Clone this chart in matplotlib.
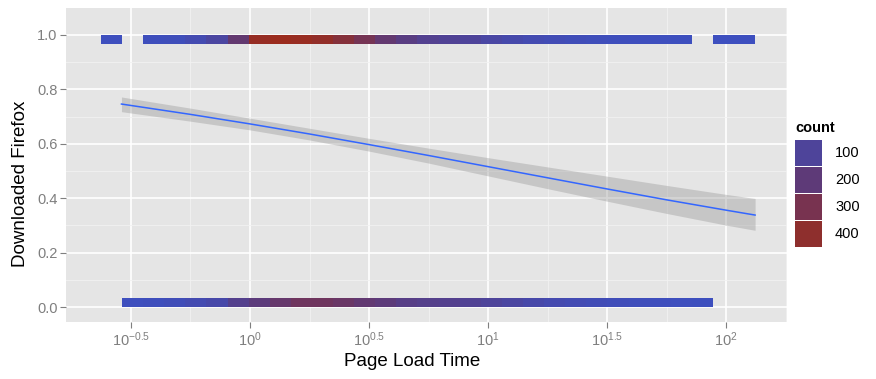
import numpy as np
import matplotlib
matplotlib.use('Agg')
import matplotlib.pyplot as plt
from matplotlib.colors import LinearSegmentedColormap, Normalize
from matplotlib.patches import Rectangle
from matplotlib.ticker import FixedLocator, NullFormatter

plt.rcParams['font.family'] = ['Liberation Sans', 'DejaVu Sans']
plt.rcParams['mathtext.fontset'] = 'custom'
plt.rcParams['mathtext.rm'] = 'Liberation Sans'
plt.rcParams['mathtext.it'] = 'Liberation Sans:italic'
plt.rcParams['mathtext.default'] = 'regular'

# ---------------- data ----------------
# log10(page load time) range covered by the 2-D bins
bin_lo, bin_hi, n_bins = -0.626, 2.122, 31
# counts per x-bin for Downloaded Firefox == 1 (top row)
count_downloaded = [5, 0, 10, 15, 40, 80, 220, 440, 470, 450, 420, 360, 290, 220, 170,
                    130, 115, 100, 75, 55, 40, 30, 20, 15, 10, 8, 5, 3, 0, 2, 1]
# counts per x-bin for Downloaded Firefox == 0 (bottom row)
count_not = [0, 5, 10, 20, 40, 60, 140, 190, 230, 265, 265, 245, 215, 195, 160,
             145, 135, 120, 100, 80, 60, 45, 35, 25, 18, 12, 8, 5, 3, 0, 0]
# logistic smooth (x in log10 units)
fit_x = [-0.54, -0.25, 0.0, 0.25, 0.5, 0.75, 1.0, 1.25, 1.5, 1.75, 2.0, 2.122]
fit_y = [0.746, 0.708, 0.673, 0.636, 0.597, 0.557, 0.516, 0.475, 0.434, 0.394, 0.356, 0.338]
fit_hi = [0.772, 0.731, 0.694, 0.657, 0.620, 0.584, 0.549, 0.515, 0.481, 0.447, 0.414, 0.399]
fit_lo = [0.718, 0.683, 0.651, 0.614, 0.573, 0.529, 0.482, 0.435, 0.389, 0.344, 0.301, 0.282]

x_tick_exp = [-0.5, 0, 0.5, 1, 1.5, 2]
x_tick_labels = ['$10^{-0.5}$', '$10^{0}$', '$10^{0.5}$', '$10^{1}$', '$10^{1.5}$', '$10^{2}$']
y_ticks = [0.0, 0.2, 0.4, 0.6, 0.8, 1.0]
legend_breaks = [100, 200, 300, 400]
count_min, count_max = 1, 470

# ---------------- style ----------------
cstops = [(1, '#3D4FBF'), (100, '#4E449A'), (200, '#5E3A78'), (300, '#783350'),
          (400, '#8E2F2D'), (470, '#9B2C1E')]
cmap = LinearSegmentedColormap.from_list(
    'cnt', [((c - count_min) / (count_max - count_min), col) for c, col in cstops])
norm = Normalize(vmin=count_min, vmax=count_max)

W, H = 876, 379
fig = plt.figure(figsize=(W / 100, H / 100), dpi=100)
L, R, T, B = 66, 787, 8, 322
ax = fig.add_axes([L / W, 1 - B / H, (R - L) / W, (B - T) / H])
ax.set_facecolor('#E5E5E5')
for s in ax.spines.values():
    s.set_visible(False)

# bins
xedges = 10 ** np.linspace(bin_lo, bin_hi, n_bins + 1)
yedges = [0, 1 / 30, 29 / 30, 1]
C = np.array([count_not, [0] * n_bins, count_downloaded], dtype=float)
C = np.ma.masked_where(C <= 0, C)
ax.set_xscale('log')
ax.pcolormesh(xedges, yedges, C, cmap=cmap, norm=norm, zorder=2)

# smooth
fx = 10 ** np.array(fit_x)
ax.fill_between(fx, fit_lo, fit_hi, color='#999999', alpha=0.4, lw=0, zorder=3)
ax.plot(fx, fit_y, color='#3366FF', lw=1.1, zorder=4)

# axes
ax.set_xlim(10 ** -0.773, 10 ** 2.256)
ax.set_ylim(-0.055, 1.099)
ax.xaxis.set_major_locator(FixedLocator([10 ** e for e in x_tick_exp]))
ax.set_xticklabels(x_tick_labels)
ax.xaxis.set_minor_locator(FixedLocator([10 ** (e + 0.25) for e in [-0.75] + x_tick_exp]))
ax.xaxis.set_minor_formatter(NullFormatter())
ax.set_yticks(y_ticks)
ax.set_yticklabels([f'{v:.1f}' for v in y_ticks])
ax.yaxis.set_minor_locator(FixedLocator([v + 0.1 for v in [-0.2] + y_ticks]))
ax.set_axisbelow(True)
ax.grid(which='major', color='white', lw=1.2)
ax.grid(which='minor', color='#F2F2F2', lw=0.6)
ax.tick_params(which='major', length=4, width=0.8, color='#7F7F7F', labelcolor='#7F7F7F',
               labelsize=10.5, pad=2)
ax.tick_params(which='minor', length=0)
ax.set_xlabel('Page Load Time', fontsize=13.5)
ax.set_ylabel('Downloaded Firefox', fontsize=13.5)
ax.xaxis.set_label_coords((412 - L) / (R - L), -(362 - B) / (B - T), transform=ax.transAxes)
ax.xaxis.label.set_va('center')
ax.yaxis.set_label_coords(-(L - 21) / (R - L), (B - 184) / (B - T), transform=ax.transAxes)
ax.yaxis.label.set_va('center')

# legend
fig.text(795 / W, 1 - 128 / H, 'count', fontsize=10.5, fontweight='bold', va='center', ha='left')
for i, b in enumerate(legend_breaks):
    top = 140 + 27 * i
    fig.add_artist(Rectangle((795 / W, 1 - (top + 26) / H), 27 / W, 26 / H,
                             transform=fig.transFigure, facecolor=cmap(norm(b)),
                             edgecolor='none'))
    fig.text(835 / W, 1 - (top + 13) / H, str(b), fontsize=10.5, va='center', ha='left')

fig.savefig('out.png', dpi=100)
